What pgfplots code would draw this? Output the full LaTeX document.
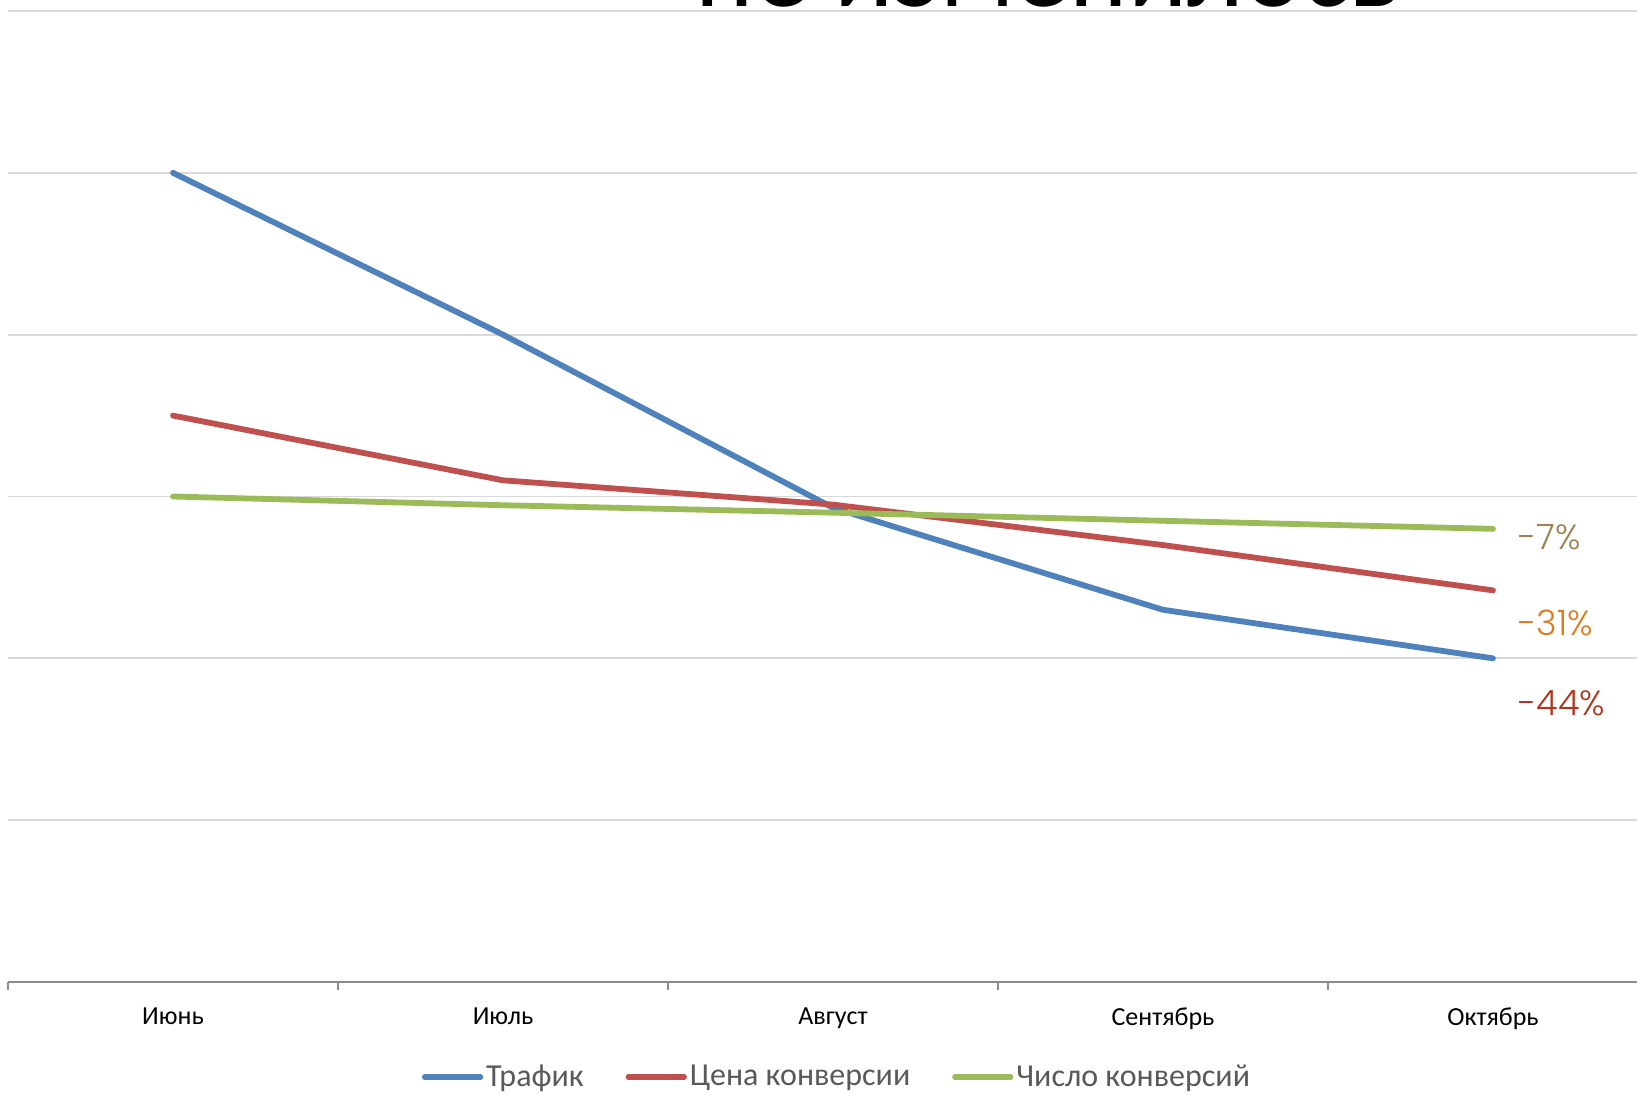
\documentclass[border=0pt]{standalone}
\usepackage{fontspec}
\setmainfont{Carlito}
\newfontfamily\gothic{Poppins Light}
\usepackage{pgfplots}
\pgfplotsset{compat=1.18}
\definecolor{trafic}{HTML}{4F81BD}
\definecolor{cena}{HTML}{C0504D}
\definecolor{chislo}{HTML}{9BBB59}
\definecolor{gridgray}{HTML}{D9D9D9}
\definecolor{axisgray}{HTML}{8C8C8C}
\definecolor{legtext}{HTML}{595959}
\definecolor{lblA}{HTML}{A0804F}
\definecolor{lblB}{HTML}{E07A1F}
\definecolor{lblC}{HTML}{B0351C}

\begin{document}
\begin{tikzpicture}
\useasboundingbox (-4bp,-56.5bp) rectangle (814.5bp,491bp);
\clip (-4bp,-56.5bp) rectangle (814.5bp,491bp);
\begin{axis}[
  at={(0,0)}, anchor=south west,
  scale only axis, width=825bp, height=485.5bp,
  xmin=-0.5, xmax=4.5, ymin=0, ymax=6,
  axis x line=bottom, axis y line=left,
  axis line style={-},
  x axis line style={draw=axisgray, line width=1bp},
  y axis line style={draw=none},
  ytick={1,2,3,4,5,6}, yticklabels={}, ytick style={draw=none},
  ymajorgrids, grid style={draw=gridgray, line width=0.85bp},
  xtick={-0.5,0.5,1.5,2.5,3.5,4.5}, xticklabels={},
  xtick style={draw=axisgray, line width=0.8bp},
  tick align=outside, major tick length=4bp,
  extra x ticks={0,1,2,3,4},
  extra x tick labels={Июнь,Июль,Август,Сентябрь,Октябрь},
  extra x tick style={major tick length=0pt},
  ticklabel style={font=\fontsize{13bp}{15bp}\selectfont, text=black},
  xticklabel style={yshift=-9.5bp},
  legend style={at={(0.5,0)}, anchor=center, xshift=2.5bp, yshift=-47.5bp,
    draw=none, fill=none, legend columns=3,
    font=\fontsize{16bp}{18bp}\selectfont, text=legtext,
    /tikz/every odd column/.append style={column sep=-0.5bp},
    /tikz/every even column/.append style={column sep=19bp}},
  legend cell align=left,
  legend image code/.code={\draw[#1, line width=2.6bp, line cap=round] (0bp,0bp) -- (28bp,0bp);},
]
\addplot[trafic, line width=2.9bp, line cap=round, line join=round]
  coordinates {(0,5.0) (1,4.0) (2,2.93) (3,2.30) (4,2.0)};
\addlegendentry{Трафик}
\addplot[cena, line width=2.9bp, line cap=round, line join=round]
  coordinates {(0,3.5) (1,3.10) (2,2.95) (3,2.70) (4,2.42)};
\addlegendentry{Цена конверсии}
\addplot[chislo, line width=2.9bp, line cap=round, line join=round]
  coordinates {(0,3.0) (1,2.946) (2,2.90) (3,2.85) (4,2.80)};
\addlegendentry{Число конверсий}

\node[anchor=west, inner sep=0pt, text=lblA, font=\gothic\fontsize{17.5bp}{20bp}\selectfont]
  at (axis cs:4.076,2.75) {-7\%};
\node[anchor=west, inner sep=0pt, text=lblB, font=\gothic\fontsize{17.5bp}{20bp}\selectfont]
  at (axis cs:4.076,2.219) {-31\%};
\node[anchor=west, inner sep=0pt, text=lblC, font=\gothic\fontsize{17.5bp}{20bp}\selectfont]
  at (axis cs:4.076,1.724) {-44\%};
\end{axis}
\node[anchor=base, inner sep=0pt, font=\fontsize{55bp}{62bp}\selectfont]
  at (520bp,487.5bp) {не изменилось};
\end{tikzpicture}
\end{document}
